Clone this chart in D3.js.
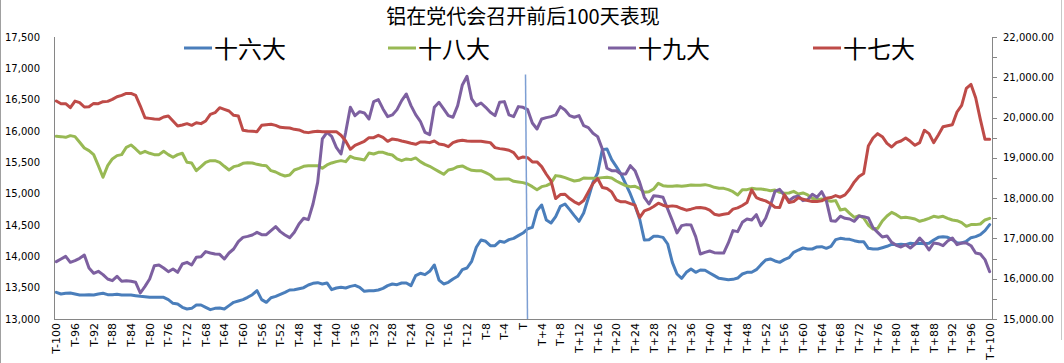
<!DOCTYPE html>
<html>
<head>
<meta charset="utf-8">
<script src="https://cdn.jsdelivr.net/npm/d3@7/dist/d3.min.js"></script>
<style>
body { margin: 0; background: #fff; }
svg { display: block; }
</style>
</head>
<body>
<div id="chart"></div>
<script>
// categories: T-100 ... T ... T+100
var days = d3.range(-100, 101).map(function(d) {
    return d === 0 ? "T" : (d < 0 ? "T" + d : "T+" + d);
});

// 十六大 (left axis)
var s16 = [
    13426,13399,13410,13415,13399,13383,13383,13388,13383,13399,13410,13388,13388,13394,13383,13383,13383,13372,13362,13356,13346,13346,13346,13346,13309,13250,13239,13186,13160,13170,13223,13223,13186,13149,
    13170,13176,13160,13213,13266,13287,13309,13346,13388,13452,13309,13266,13340,13362,13394,13426,13463,13468,13484,13500,13543,13569,13580,13559,13575,13468,13495,13505,13495,13521,13537,13505,13442,13452,
    13452,13463,13489,13532,13559,13548,13575,13575,13532,13692,13729,13708,13761,13862,13622,13559,13585,13638,13681,13787,13814,13920,14144,14261,14240,14170,14170,14240,14224,14266,14287,14330,14372,
    14440,14463,14729,14819,14580,14532,14633,14798,14835,14745,14649,14559,14692,14931,15181,15330,15703,15713,15543,15431,15314,15155,14995,14809,14596,14261,14266,14319,14319,14303,14197,13904,13718,13649,
    13745,13798,13745,13782,13777,13734,13692,13649,13638,13628,13633,13654,13718,13745,13745,13787,13867,13942,13958,13926,13904,13947,13979,14064,14101,14133,14117,14117,14149,14154,14128,14160,14266,14287,
    14277,14271,14250,14234,14234,14128,14117,14117,14138,14160,14192,14186,14192,14186,14208,14202,14208,14202,14208,14261,14303,14314,14303,14266,14218,14213,14240,14298,14314,14346,14410,14506
];

// 十八大 (left axis)
var s18 = [
    15915,15910,15899,15926,15910,15820,15729,15687,15623,15447,15261,15447,15554,15607,15623,15740,15777,15713,15644,15676,15644,15623,15623,15676,15623,15580,15623,15644,15500,15490,15367,15431,15500,15527,
    15527,15500,15437,15378,15431,15447,15484,15495,15490,15468,15452,15447,15367,15346,15309,15282,15298,15378,15405,15437,15447,15447,15447,15405,15458,15490,15511,15527,15511,15596,15564,15554,15537,15649,
    15633,15660,15660,15633,15617,15554,15527,15554,15543,15570,15511,15468,15437,15394,15351,15309,15378,15394,15431,15442,15405,15373,15367,15367,15335,15298,15234,15229,15234,15234,15197,15186,15176,
    15155,15112,15064,15112,15128,15165,15288,15277,15256,15229,15202,15213,15250,15245,15245,15245,15256,15261,15250,15202,15165,15128,15112,15117,15085,15022,15032,15075,15165,15128,15117,15117,15128,15117,
    15128,15139,15133,15133,15144,15128,15101,15085,15085,15064,15032,14979,15064,15064,15085,15075,15075,15064,15048,15059,15022,15006,15011,15037,14995,15011,14979,14926,14905,14915,14894,14878,14889,14740,
    14756,14686,14623,14649,14612,14500,14436,14447,14564,14644,14702,14665,14617,14623,14612,14596,14559,14580,14607,14639,14623,14639,14607,14580,14569,14537,14479,14506,14506,14516,14580,14607
];

// 十九大 (left axis)
var s19 = [
    13915,13958,14000,13904,13931,13968,14021,13814,13729,13761,13708,13638,13612,13681,13601,13612,13601,13585,13415,13521,13638,13851,13862,13814,13755,13798,13745,13878,13904,13862,13984,13995,14075,14053,
    14037,14032,13958,14053,14117,14234,14303,14319,14341,14383,14346,14346,14410,14474,14394,14341,14298,14383,14516,14607,14585,14835,15181,15873,15979,15915,15740,15633,15979,16378,16245,16309,16288,16192,
    16469,16500,16352,16229,16256,16341,16485,16591,16405,16261,16155,15979,15942,16378,16458,16352,16245,16219,16405,16735,16873,16511,16405,16447,16378,16298,16245,16458,16469,16256,16229,16389,16378,
    16341,16128,16032,16192,16213,16229,16256,16389,16336,16245,16219,16245,16086,16054,15963,15910,15713,15405,15367,15367,15314,15314,15447,15367,15181,14942,14835,14968,14958,14942,14756,14569,14373,14490,
    14506,14500,14314,14037,14064,14085,14059,14053,14053,14213,14410,14394,14543,14596,14580,14665,14490,14607,14809,15038,15069,14979,14889,14942,14963,14889,14905,14990,14942,15032,14889,14569,14559,14640,
    14607,14596,14559,14644,14633,14612,14458,14383,14309,14325,14224,14176,14149,14186,14133,14197,14293,14213,14101,14213,14202,14170,14245,14293,14186,14213,14213,14170,14053,14037,13947,13755
];

// 十七大 (right axis)
var s17 = [
    20410,20344,20344,20245,20410,20369,20262,20270,20352,20344,20394,20402,20452,20518,20551,20600,20600,20551,20286,19997,19980,19964,19956,20014,20039,19915,19791,19815,19849,19807,19873,19849,19915,20080,
    20121,20245,20204,20163,20055,20039,19683,19667,19659,19650,19807,19824,19832,19807,19758,19750,19741,19708,19692,19642,19626,19650,19659,19650,19650,19650,19650,19560,19419,19213,19312,19361,19411,
    19502,19502,19560,19510,19411,19469,19452,19419,19394,19361,19337,19394,19394,19378,19419,19345,19328,19279,19378,19419,19436,19419,19411,19411,19411,19394,19378,19254,19229,19213,19188,19130,18981,19023,
    19006,18899,18899,18783,18593,18428,17990,18089,18097,17990,17908,17850,17941,18155,18362,18486,18263,18238,18155,17957,17908,17908,17866,17825,17519,17685,17726,17792,17874,17825,17792,17808,17792,17742,
    17701,17726,17759,17767,17750,17701,17602,17577,17602,17618,17726,17759,17817,17891,18205,18015,17965,17932,17866,17775,17767,18081,17891,17916,18007,17974,17941,17916,17916,17932,17999,18015,18064,18023,
    18081,18221,18403,18535,18610,19295,19493,19601,19526,19361,19270,19378,19419,19493,19411,19312,19378,19683,19601,19378,19568,19774,19799,19824,20138,20303,20724,20823,20493,19956,19460,19460
];

var leftTicks = d3.range(13000, 17501, 500);
var rightTicks = d3.range(15000, 22001, 1000);
var rightMinor = d3.range(15000, 22001, 500);

var title = "铝在党代会召开前后100天表现";
var names = ["十六大", "十八大", "十九大", "十七大"];
var colors = ["#4a7ebb", "#98b954", "#7d60a0", "#be4b48"];

var draw = function() {
    var width = 1064, height = 363;
    var left = 54, right = 992, top = 37, bottom = 319;

    var svg = d3.select("#chart").append("svg")
        .attr("width", width)
        .attr("height", height);

    var x = d3.scaleBand().domain(days).range([left, right]);
    var cx = d => x(d) + x.bandwidth() / 2;
    var yL = d3.scaleLinear().domain([13000, 17500]).range([bottom, top]);
    var yR = d3.scaleLinear().domain([15000, 22000]).range([bottom, top]);

    // outer border
    svg.append("line").attr("x1", 0.5).attr("x2", 0.5).attr("y1", 0).attr("y2", height)
        .attr("stroke", "#a0a0a0");
    svg.append("line").attr("x1", 1061.5).attr("x2", 1061.5).attr("y1", 0).attr("y2", 340)
        .attr("stroke", "#c8c8c8");

    var axisCol = "#868686";

    // left axis
    svg.append("line")
        .attr("x1", left + 0.5).attr("x2", left + 0.5)
        .attr("y1", top).attr("y2", bottom)
        .attr("stroke", axisCol);
    svg.append("g")
        .selectAll("text")
        .data(leftTicks)
        .join("text")
        .attr("x", 40)
        .attr("y", d => yL(d))
        .attr("dy", "0.35em")
        .attr("text-anchor", "end")
        .attr("font-family", "DejaVu Sans")
        .attr("font-size", 10)
        .attr("fill", "#000")
        .text(d3.format(","));

    // right axis
    svg.append("line")
        .attr("x1", right + 0.5).attr("x2", right + 0.5)
        .attr("y1", top).attr("y2", bottom)
        .attr("stroke", axisCol);
    svg.append("g")
        .selectAll("line")
        .data(rightMinor)
        .join("line")
        .attr("x1", right).attr("x2", right + 5)
        .attr("y1", d => Math.round(yR(d)) + 0.5)
        .attr("y2", d => Math.round(yR(d)) + 0.5)
        .attr("stroke", axisCol);
    svg.append("g")
        .selectAll("text")
        .data(rightTicks)
        .join("text")
        .attr("x", 1003)
        .attr("y", d => yR(d))
        .attr("dy", "0.35em")
        .attr("font-family", "DejaVu Sans")
        .attr("font-size", 10)
        .attr("fill", "#000")
        .text(d3.format(",.2f"));

    // bottom axis
    svg.append("line")
        .attr("x1", left).attr("x2", right)
        .attr("y1", bottom + 0.5).attr("y2", bottom + 0.5)
        .attr("stroke", axisCol);
    svg.append("g")
        .selectAll("text")
        .data(days.filter((d, i) => i % 4 === 0))
        .join("text")
        .attr("transform", d => "translate(" + (cx(d) + 4) + "," + (bottom + 4) + ") rotate(-90)")
        .attr("text-anchor", "end")
        .attr("font-family", "DejaVu Sans")
        .attr("font-size", 11)
        .attr("fill", "#000")
        .text(d => d);

    // series
    var data = [s16, s18, s19, s17];
    data.forEach(function(vals, k) {
        var y = k === 3 ? yR : yL;
        var line = d3.line()
            .x((v, i) => cx(days[i]))
            .y(v => y(v));
        svg.append("path")
            .datum(vals)
            .attr("fill", "none")
            .attr("stroke", colors[k])
            .attr("stroke-width", 3)
            .attr("stroke-linejoin", "round")
            .attr("stroke-linecap", "round")
            .attr("d", line);
    });

    // marker line at T
    var xT = cx("T");
    svg.append("line")
        .attr("x1", xT + 2.5).attr("y1", yL(16900))
        .attr("x2", xT + 4.5).attr("y2", yL(13000))
        .attr("stroke", "#7d9fd3")
        .attr("stroke-width", 1.5);

    // title
    svg.append("text")
        .attr("x", 523)
        .attr("y", 24)
        .attr("text-anchor", "middle")
        .attr("font-family", "Noto Sans CJK SC")
        .attr("font-size", 20)
        .attr("fill", "#000")
        .text(title);

    // legend
    var legX = [184, 388, 608, 813];
    var leg = svg.append("g")
        .selectAll("g")
        .data(names)
        .join("g")
        .attr("transform", (d, i) => "translate(" + legX[i] + ",48)");
    leg.append("line")
        .attr("x1", 0).attr("x2", 28)
        .attr("stroke", (d, i) => colors[i])
        .attr("stroke-width", 3);
    leg.append("text")
        .attr("x", 30)
        .attr("y", 10)
        .attr("font-family", "Noto Sans CJK SC")
        .attr("font-size", 24)
        .attr("fill", "#000")
        .text(d => d);
};

draw();
</script>
</body>
</html>
